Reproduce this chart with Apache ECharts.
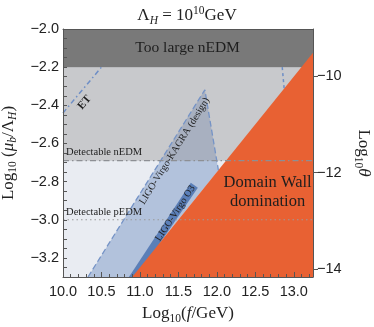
<!DOCTYPE html>
<html><head><meta charset="utf-8">
<script src="https://cdn.jsdelivr.net/npm/echarts@6/dist/echarts.min.js"></script>
<style>html,body{margin:0;padding:0;background:#fff}#c{width:374px;height:327px}</style>
</head><body><div id="c"></div>
<script>
// ---- data ----
const xRange = [10, 13.25];
const yRange = [-3.3, -2.0];
const thetaRange = [-14.16, -9.03];
const xTickLabels = [10.0, 10.5, 11.0, 11.5, 12.0, 12.5, 13.0];
const yTickLabels = [-3.2, -3.0, -2.8, -2.6, -2.4, -2.2, -2.0];
const thetaTickLabels = [-14, -12, -10];

const nedmTooLarge = [-2.2, -2.0];          // excluded band
const nedmDetectable = -2.69;
const pedmDetectable = -3.0;
const domainWallEdge = [[10.9, -3.3], [13.25, -2.125]];
const lvkDesignEdge = [[10.325, -3.3], [11.844, -2.319], [12.02, -2.74]];
const lvkO3Region = [[10.857, -3.3], [11.662, -2.806], [11.753, -2.832], [10.961, -3.3]];
const etLeftEdge = [[10.0, -2.44], [10.5, -2.2]];
const etRightEdge = [[12.85, -2.2], [12.875, -2.313]];

const annotationTexts = ['Too large nEDM', 'Domain Wall\ndomination', 'Detectable nEDM', 'Detectable pEDM', 'ET', 'LIGO-Virgo-KAGRA (design)', 'LIGO-Virgo O3'];
const annotationAnchors = [[11.62, -2.1], [12.66, -2.853], [10.04, -2.644], [10.04, -2.963], [10.28, -2.385], [11.45, -2.64], [11.46, -2.966]];

// ---- derived ----
const minorStep = 0.05;
const yMinorTicks = [];
for (let v = yRange[0]; v <= yRange[1] + 1e-9; v += minorStep) yMinorTicks.push(Math.round(v * 100) / 100);
const minus = s => String(s).replace('-', '\u2212');

const SERIF = 'Liberation Serif';
const SANS = 'Liberation Sans';
function mathRich(big, small) {
  const base = {fontFamily: SERIF, color: '#222', fontWeight: 'normal'};
  return {
    t: Object.assign({}, base, {fontSize: big, lineHeight: big + 5}),
    i: Object.assign({}, base, {fontSize: big, fontStyle: 'italic', lineHeight: big + 5}),
    s: Object.assign({}, base, {fontSize: small, lineHeight: small + 2, verticalAlign: 'bottom'}),
    si: Object.assign({}, base, {fontSize: small, fontStyle: 'italic', lineHeight: small + 2, verticalAlign: 'bottom'}),
    p: Object.assign({}, base, {fontSize: small, lineHeight: small + 2, verticalAlign: 'top'})
  };
}

function polySeries(pts, fill, z) {
  return {
    type: 'custom', coordinateSystem: 'cartesian2d', xAxisIndex: 0, yAxisIndex: 0,
    z: z, silent: true, animation: false, data: pts,
    renderItem: (params, api) => params.dataIndex !== 0 ? null : {
      type: 'polygon', shape: {points: pts.map(p => api.coord(p))}, style: {fill: fill}
    }
  };
}
function lineSeries(pts, color, width, type, z) {
  return {type: 'line', xAxisIndex: 0, yAxisIndex: 0, data: pts, symbol: 'none', z: z, silent: true,
    animation: false, lineStyle: {color: color, width: width, type: type}};
}
const x0 = xRange[0], x1 = xRange[1], y0 = yRange[0], y1 = yRange[1];

const series = [
  polySeries([lvkDesignEdge[0], lvkDesignEdge[1], lvkDesignEdge[2], domainWallEdge[0]], '#b2c2dc', 1),
  polySeries([[x0, nedmDetectable], [x1, nedmDetectable], [x1, nedmTooLarge[0]], [x0, nedmTooLarge[0]]], 'rgba(154,153,152,0.42)', 2),
  polySeries([[x0, nedmTooLarge[0]], [x1, nedmTooLarge[0]], [x1, nedmTooLarge[1]], [x0, nedmTooLarge[1]]], '#797979', 3),
  polySeries(lvkO3Region, '#5b7fb8', 4),
  polySeries([domainWallEdge[0], domainWallEdge[1], [x1, y0]], '#e86133', 5),
  lineSeries(lvkDesignEdge, '#7593c6', 1.3, [6, 3], 6),
  lineSeries(etLeftEdge, '#6d8ec6', 1.5, [5, 3, 1.5, 3], 6),
  lineSeries(etRightEdge, '#6d8ec6', 1.5, [3, 3], 6),
  lineSeries([[x0, nedmDetectable], [x1, nedmDetectable]], '#8d8f94', 1.3, [6, 3, 1.5, 3], 6),
  lineSeries([[x0, pedmDetectable], [x1, pedmDetectable]], '#9a9a9a', 1.2, [1.5, 3], 6),
  {
    type: 'custom', coordinateSystem: 'cartesian2d', xAxisIndex: 0, yAxisIndex: 0, z: 8, silent: true,
    animation: false, data: annotationAnchors,
    renderItem: (params, api) => {
      const i = params.dataIndex;
      const p = api.coord(annotationAnchors[i]);
      const ang = (a, b) => { const pa = api.coord(a), pb = api.coord(b); return Math.atan2(pa[1] - pb[1], pb[0] - pa[0]); };
      const st = [
        {size: 15.5, rot: 0, align: 'center'},
        {size: 16.5, rot: 0, align: 'center', lh: 19},
        {size: 10.5, rot: 0, align: 'left'},
        {size: 10.5, rot: 0, align: 'left'},
        {size: 11, rot: ang(etLeftEdge[0], etLeftEdge[1]), align: 'center', bold: true},
        {size: 10, rot: ang(lvkDesignEdge[0], lvkDesignEdge[1]), align: 'center'},
        {size: 10, rot: ang(lvkO3Region[0], lvkO3Region[1]), align: 'center'}
      ][i];
      return {
        type: 'text', x: p[0], y: p[1], rotation: st.rot,
        style: {text: annotationTexts[i], fontFamily: SERIF, fontSize: st.size, fill: '#1e1e1e',
          fontWeight: st.bold ? 'bold' : 'normal', align: st.align, verticalAlign: 'middle',
          lineHeight: st.lh || st.size * 1.2}
      };
    }
  }
];

const chart = echarts.init(document.getElementById('c'), null, {renderer: 'canvas'});
chart.setOption({
  animation: false,
  backgroundColor: '#ffffff',
  title: {
    text: '{t|\u039b}{si|H}{t| = 10}{p|10}{t|GeV}', left: 'center', top: 0,
    textStyle: {fontWeight: 'normal', rich: mathRich(17, 11.5)}
  },
  grid: {left: 63, right: 61, top: 29, bottom: 50, show: true, backgroundColor: '#e9ecf2', borderWidth: 0,
    containLabel: false, outerBoundsMode: 'none'},
  xAxis: [{
    type: 'value', min: x0, max: x1, interval: 0.5, z: 10,
    axisLine: {show: true, lineStyle: {color: '#555', width: 1}},
    axisTick: {show: true, inside: true, length: 5, lineStyle: {color: '#555'}},
    minorTick: {show: true, splitNumber: 5, length: 3, lineStyle: {color: '#555'}},
    splitLine: {show: false},
    axisLabel: {customValues: xTickLabels, formatter: v => minus(v.toFixed(1)), fontFamily: SANS, fontSize: 14.5, color: '#222', margin: 7},
    name: '{t|Log}{s|10}{t|(}{i|f}{t|/GeV)}', nameLocation: 'middle', nameGap: 26,
    nameTextStyle: {rich: mathRich(17, 11.5)}
  }, {
    type: 'value', position: 'top', min: x0, max: x1, z: 10,
    axisLine: {show: true, lineStyle: {color: '#555', width: 1}},
    axisTick: {show: false}, axisLabel: {show: false}, splitLine: {show: false}
  }],
  yAxis: [{
    type: 'value', min: y0, max: y1, position: 'left', z: 10,
    axisLine: {show: true, lineStyle: {color: '#555', width: 1}},
    axisTick: {show: true, inside: true, length: 4, customValues: yMinorTicks, lineStyle: {color: '#555'}},
    splitLine: {show: false},
    axisLabel: {customValues: yTickLabels, formatter: v => minus(v.toFixed(1)), fontFamily: SANS, fontSize: 14.5, color: '#222', margin: 4},
    name: '{t|Log}{s|10}{t| (}{i|\u03bc}{si|b}{t|/\u039b}{si|H}{t|)}', nameLocation: 'middle', nameGap: 40,
    nameTextStyle: {rich: mathRich(17, 11.5)}
  }, {
    type: 'value', min: thetaRange[0], max: thetaRange[1], position: 'right', z: 10,
    axisLine: {show: true, lineStyle: {color: '#555', width: 1}},
    axisTick: {show: true, inside: false, length: 5, customValues: thetaTickLabels, lineStyle: {color: '#555'}},
    splitLine: {show: false},
    axisLabel: {customValues: thetaTickLabels, formatter: v => minus(v), fontFamily: SANS, fontSize: 14.5, color: '#222', margin: 4},
    name: '{t|Log}{s|10}{i|\u03b8}', nameLocation: 'middle', nameGap: 36, nameRotate: -90,
    nameTextStyle: {rich: mathRich(17, 11.5)}
  }],
  series: series
});
</script></body></html>
